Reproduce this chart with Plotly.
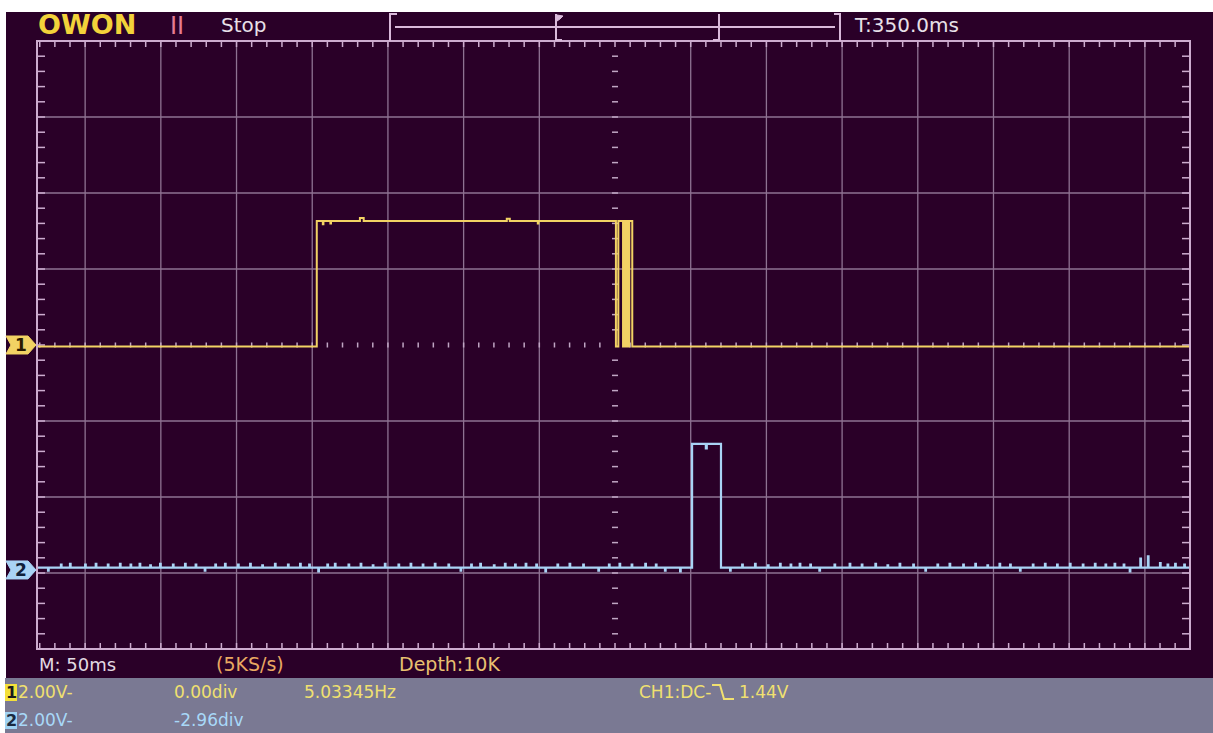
import plotly.graph_objects as go

# CH1 (yellow): step trace, time in ms relative to trigger, volts
ch1_t = [-381.8, -197.0, -193.0, -192.6, -188.0, -187.6, -168.5, -166.0,
         -71.5, -69.5, -51.0, -50.6, 0.6, 2.2, 5.3, 6.2, 7.0, 7.8, 8.6,
         9.4, 11.4, 379.8]
ch1_v = [-0.04, 3.26, 3.18, 3.26, 3.20, 3.26, 3.34, 3.26,
         3.32, 3.26, 3.20, 3.26, -0.04, 3.26, -0.04, 3.26, -0.04, 3.26, -0.04,
         3.26, -0.04, -0.04]

# CH2 (blue): baseline, glitches and one pulse
ch2_base = 0.06
ch2_glitch_t = [-374.5, -366, -360, -350, -343, -335, -327, -320, -314, -307, -300.5,
                -292, -284, -277, -271, -264, -257.6, -249, -241, -233, -224.6, -216,
                -208, -202, -196, -190, -185, -176, -168, -160, -152, -143, -135, -127,
                -119, -110, -102, -95, -89, -80, -72.7, -66, -59, -52, -46, -38, -30,
                -21, -11, -4, 3, 11, 20, 27, 33, 43, 76, 84, 92.5, 101, 109, 116, 122,
                129, 135, 145, 155, 163, 172, 180, 188, 197, 205, 213, 221, 230, 238,
                246, 254, 261, 267.5, 276, 284, 292, 300.5, 309, 317, 324, 330, 336,
                340, 347, 352, 360, 365, 370, 376]
ch2_glitch_v = [-0.02, 0.14, 0.16, 0.14, 0.16, 0.14, 0.16, 0.14, 0.16, 0.12, 0.16,
                0.14, 0.16, 0.14, -0.02, 0.14, 0.16, 0.14, 0.16, 0.12, 0.16, 0.14,
                0.16, 0.14, -0.04, 0.14, 0.16, 0.14, 0.16, 0.12, 0.16, 0.14, 0.16, 0.14,
                0.16, 0.14, -0.02, 0.14, 0.16, 0.12, 0.16, 0.14, 0.16, 0.14, -0.04, 0.14, 0.16,
                0.14, -0.02, 0.14, 0.16, 0.14, 0.16, 0.14, -0.02, -0.04, -0.02, 0.14, 0.16, 0.12, 0.16, 0.14, 0.16,
                0.14, -0.02, 0.14, 0.16, 0.14, 0.16, 0.12, 0.16, 0.14, -0.02, 0.14, 0.16, 0.14, 0.16,
                0.12, 0.16, 0.14, -0.02, 0.14, 0.16, 0.14, 0.16, 0.14, 0.16, 0.14, 0.16, 0.14,
                -0.04, 0.30, 0.36, 0.18, 0.14, 0.16, 0.14]
ch2_pulse_t = [50.9, 60.0, 60.6, 70.0]
ch2_pulse_v = [3.32, 3.20, 3.32, ch2_base]

# channel settings
ch1_vdiv, ch1_offset = 2.0, 0.00
ch2_vdiv, ch2_offset = 2.0, -2.96

# ---------------- layout constants ----------------
W, H = 1213, 733
L, R, T, B = 37, 23, 41, 84
PW, PH = W - L - R, H - T - B
X_MIN, X_MAX = -381.8, 379.8     # ms
Y_MIN, Y_MAX = -4.0, 4.0          # div
MS_PER_PX = (X_MAX - X_MIN) / PW
DIV_PER_PX = (Y_MAX - Y_MIN) / PH

BG = '#2a0028'
GRID = '#8e7292'
BORDER = '#cdaccf'
YEL = '#f2d264'
BLU = '#a9d3f5'
FONT = 'DejaVu Sans'


def px(x):
    return (x - L) / PW


def py(y):
    return (H - B - y) / PH


def div2pix(d):
    return T + (Y_MAX - d) / DIV_PER_PX


# ---------------- traces ----------------
fig = go.Figure()

# border ticks and centre dashes (decoration)
tx, ty = [], []
k = -380
while k <= 370:
    tx += [k, k, None, k, k, None]
    ty += [Y_MAX, Y_MAX - 6 * DIV_PER_PX, None, Y_MIN, Y_MIN + 6 * DIV_PER_PX, None]
    k += 10
j = -19
while j <= 19:
    yv = j * 0.2
    tx += [X_MIN, X_MIN + 8 * MS_PER_PX, None, X_MAX, X_MAX - 8 * MS_PER_PX, None]
    ty += [yv, yv, None, yv, yv, None]
    j += 1
fig.add_trace(go.Scatter(x=tx, y=ty, mode='lines', line=dict(color=BORDER, width=1.5),
                         hoverinfo='skip', showlegend=False))

cx, cy = [], []
k = -380
while k <= 370:
    if k != 0:
        cx += [k, k, None]
        cy += [-2.5 * DIV_PER_PX, 2.5 * DIV_PER_PX, None]
    k += 10
j = -19
while j <= 19:
    if j != 0:
        cx += [-3 * MS_PER_PX, 3 * MS_PER_PX, None]
        cy += [j * 0.2, j * 0.2, None]
    j += 1
fig.add_trace(go.Scatter(x=cx, y=cy, mode='lines', line=dict(color='#c0a6c4', width=1.5),
                         hoverinfo='skip', showlegend=False))

# CH1
fig.add_trace(go.Scatter(x=ch1_t, y=[v / ch1_vdiv + ch1_offset for v in ch1_v],
                         mode='lines', line=dict(color=YEL, width=2, shape='hv'),
                         hoverinfo='skip', showlegend=False))

# CH2
pts = [(X_MIN, ch2_base)]
for t, v in zip(ch2_glitch_t, ch2_glitch_v):
    pts.append((t, v))
    pts.append((t + 0.4, ch2_base))
for t, v in zip(ch2_pulse_t, ch2_pulse_v):
    pts.append((t, v))
pts.sort(key=lambda p: p[0])
pts.append((X_MAX, ch2_base))
fig.add_trace(go.Scatter(x=[p[0] for p in pts],
                         y=[p[1] / ch2_vdiv + ch2_offset for p in pts],
                         mode='lines', line=dict(color=BLU, width=2.2, shape='hv'),
                         hoverinfo='skip', showlegend=False))

# ---------------- shapes ----------------
shapes = []
shapes.append(dict(type='rect', xref='paper', yref='paper', x0=px(6), x1=px(W + 2),
                   y0=py(678), y1=py(12), fillcolor=BG, line=dict(width=0), layer='below'))
shapes.append(dict(type='rect', xref='paper', yref='paper', x0=px(5), x1=px(W + 2),
                   y0=py(H + 2), y1=py(678), fillcolor='#7a7993', line=dict(width=0), layer='below'))
for k in range(-7, 8):
    if k == 0:
        continue
    shapes.append(dict(type='line', xref='x', yref='y', x0=50 * k, x1=50 * k, y0=Y_MIN, y1=Y_MAX,
                       line=dict(color=GRID, width=1.3), layer='below'))
for j in range(-3, 4):
    if j == 0:
        continue
    shapes.append(dict(type='line', xref='x', yref='y', x0=X_MIN, x1=X_MAX, y0=j, y1=j,
                       line=dict(color=GRID, width=1.3), layer='below'))
shapes.append(dict(type='rect', xref='paper', yref='paper', x0=0, x1=1, y0=0, y1=1,
                   line=dict(color=BORDER, width=2), layer='above'))


def path(points, close=False):
    s = 'M ' + ' L '.join('%.5f,%.5f' % (px(a), py(b)) for a, b in points)
    return s + (' Z' if close else '')


MEM = '#d9b9da'
for pts_ in ([(397, 14), (390, 14), (390, 41)],
             [(395, 27), (835, 27)],
             [(556, 14), (556, 40), (562, 40)],
             [(713, 40), (719, 40), (719, 14)],
             [(834, 14), (840, 14), (840, 41)]):
    shapes.append(dict(type='path', xref='paper', yref='paper', path=path(pts_),
                       line=dict(color=MEM, width=2)))
shapes.append(dict(type='path', xref='paper', yref='paper',
                   path=path([(557, 15), (563, 16), (560, 19), (557, 21)], True),
                   fillcolor=MEM, line=dict(color=MEM, width=1)))

for off, col in ((ch1_offset, YEL), (ch2_offset, BLU)):
    yc = div2pix(off)
    shapes.append(dict(type='path', xref='paper', yref='paper',
                       path=path([(6, yc - 9), (28, yc - 9), (36, yc), (28, yc + 9),
                                  (6, yc + 9), (11, yc)], True),
                       fillcolor=col, line=dict(color=col, width=1)))

shapes.append(dict(type='rect', xref='paper', yref='paper', x0=px(5), x1=px(17), y0=py(701), y1=py(684),
                   fillcolor='#f4e03a', line=dict(width=0)))
shapes.append(dict(type='rect', xref='paper', yref='paper', x0=px(5), x1=px(17), y0=py(729), y1=py(712),
                   fillcolor='#9fd2f2', line=dict(width=0)))
shapes.append(dict(type='path', xref='paper', yref='paper',
                   path=path([(712, 685), (720, 685), (724, 699), (734, 699)]),
                   line=dict(color='#f0e070', width=2)))

# ---------------- texts ----------------
ann = []


def text(x, y, s, color, size=17, bold=False, family=FONT):
    if bold:
        s = '<b>' + s + '</b>'
    ann.append(dict(xref='paper', yref='paper', x=px(x), y=py(y), xanchor='left', yanchor='middle',
                    text=s, showarrow=False, font=dict(family=family, size=size, color=color)))


text(36, 25, 'OWON', '#f3d23a', size=27, bold=True)
text(168, 26, 'II', '#e67c92', size=24)
text(219, 25, 'Stop', '#e8e0e8', size=20)
text(852, 25, 'T:350.0ms', '#e8e0e8', size=20)

text(37, 664, 'M: 50ms', '#e2dae2', size=18)
text(214, 664, '(5KS/s)', '#e8a862', size=19)
text(397, 664, 'Depth:10K', '#e8c070', size=19)

text(4, 692, '1', '#1a1a1a', size=16, bold=True)
text(16, 692, '2.00V-', '#f0e070', size=17)
text(172, 692, '0.00div', '#f0e070', size=17)
text(302, 692, '5.03345Hz', '#f0e070', size=17)
text(637, 692, 'CH1:DC-', '#f0e070', size=17)
text(737, 692, '1.44V', '#f0e070', size=17)

text(4, 720, '2', '#1a2a40', size=16, bold=True)
text(16, 720, '2.00V-', '#a8d8f8', size=17)
text(172, 720, '-2.96div', '#a8d8f8', size=17)

text(13, div2pix(ch1_offset), '1', '#2a1a00', size=17, bold=True)
text(13, div2pix(ch2_offset), '2', '#10203a', size=17, bold=True)

fig.update_layout(
    width=W, height=H,
    margin=dict(l=L, r=R, t=T, b=B, pad=0),
    paper_bgcolor='white', plot_bgcolor=BG,
    xaxis=dict(range=[X_MIN, X_MAX], showgrid=False, zeroline=False, showticklabels=False,
               ticks='', fixedrange=True),
    yaxis=dict(range=[Y_MIN, Y_MAX], showgrid=False, zeroline=False, showticklabels=False,
               ticks='', fixedrange=True),
    shapes=shapes, annotations=ann, showlegend=False,
)

fig.write_html('out.html', config=dict(displayModeBar=False))
